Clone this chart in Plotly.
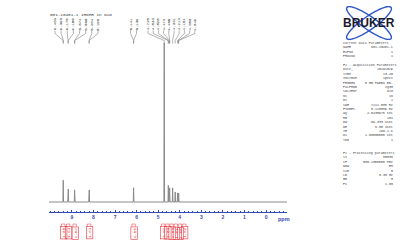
import numpy as np
import plotly.graph_objects as go

W, H = 400, 250

# ---------------- data ----------------
title_text = "601-10401-1 1HNMR in D2O"

peak_ppm = [9.40, 9.175, 9.165, 8.875, 8.865, 8.205, 8.195, 6.14, 4.72,
            4.53, 4.47, 4.33, 4.21, 4.10, 4.05]
peak_height = [0.137, 0.082, 0.082, 0.076, 0.076, 0.076, 0.076, 0.090, 1.0,
               0.105, 0.089, 0.089, 0.063, 0.057, 0.057]

top_labels = ["9.403", "9.398", "9.175", "9.166", "8.874", "8.866", "8.204", "8.196",
              "6.141", "6.139",
              "4.720", "4.533", "4.525", "4.472", "4.466", "4.331", "4.213", "4.104",
              "4.058", "4.049"]
label_groups = [8, 2, 10]

integral_ppm = [9.40, 9.17, 8.87, 8.20, 6.14, 4.53, 4.47, 4.33, 4.21, 4.10, 4.05]
integral_vals = ["1.00", "1.01", "1.02", "1.01", "1.00", "1.02", "1.04", "1.03",
                 "1.01", "1.05", "1.02"]
integral_groups = [1, 1, 1, 1, 1, 6]

tick_vals = [9, 8, 7, 6, 5, 4, 3, 2, 1, 0]

param_rows = [
    ("Current Data Parameters", None),
    ("NAME", "601-10401-1"),
    ("EXPNO", "1"),
    ("PROCNO", "1"),
    None,
    ("F2 - Acquisition Parameters", None),
    ("Date_", "20191029"),
    ("Time", "13.48"),
    ("INSTRUM", "spect"),
    ("PROBHD", "5 mm PABBO BB-"),
    ("PULPROG", "zg30"),
    ("SOLVENT", "D2O"),
    ("NS", "16"),
    ("DS", "2"),
    ("SWH", "7211.538 Hz"),
    ("FIDRES", "0.110039 Hz"),
    ("AQ", "4.5438976 sec"),
    ("RG", "101"),
    ("DW", "69.333 usec"),
    ("DE", "6.50 usec"),
    ("TE", "296.1 K"),
    ("D1", "1.00000000 sec"),
    ("TD0", "1"),
    None, None,
    ("F2 - Processing parameters", None),
    ("SI", "65536"),
    ("SF", "500.1300000 MHz"),
    ("WDW", "EM"),
    ("SSB", "0"),
    ("LB", "0.30 Hz"),
    ("GB", "0"),
    ("PC", "1.00"),
]

# ---------------- layout constants ----------------
AX_L, AX_R = 49, 287          # pixel extent of ppm axis
PPM_L, PPM_R = 10.06, -0.97
AXIS_Y = 212                  # pixel row of axis line
BASE_Y = 202                  # spectrum baseline
TOP_Y = 43                    # top of tallest peak
BLUE = "#3548b8"
RED = "#e8303a"
GRAY = "#8a8a8a"
PANEL_L, PANEL_R = 341, 395


def px(xp):
    return xp / W


def py(yp):
    return 1 - yp / H


def ppm2px(p):
    return AX_L + (PPM_L - p) / (PPM_L - PPM_R) * (AX_R - AX_L)


# spectrum as stick-like lines
order = np.argsort(peak_ppm)[::-1]
d = 0.015
sx, sy = [PPM_L], [0.0]
for i in order:
    p, h = peak_ppm[i], peak_height[i]
    sx += [p + d, p, p - d]
    sy += [0.0, h, 0.0]
sx.append(PPM_R)
sy.append(0.0)

fig = go.Figure()
fig.add_trace(go.Scatter(x=sx, y=sy, mode="lines",
                         line=dict(color=GRAY, width=1), hoverinfo="skip",
                         showlegend=False))

# y axis mapping so baseline lands at BASE_Y
dom_lo_px = BASE_Y + 3
span = dom_lo_px - TOP_Y
r0 = -3 / (span - 3)

shapes = []
annotations = []

# title
annotations.append(dict(x=px(48), y=py(14), xref="paper", yref="paper",
                        text=title_text, showarrow=False, xanchor="left",
                        yanchor="middle",
                        font=dict(family="Liberation Mono", size=4.3, color="#333")))

# peak labels with leaders
starts = [55, 130.5, 148]
spacing = [6.14, 6.0, 5.2]
k = 0
for g, n in enumerate(label_groups):
    for j in range(n):
        lx = starts[g] + j * spacing[g]
        txt = top_labels[k]
        tx = ppm2px(float(txt))
        annotations.append(dict(x=px(lx), y=py(24), xref="paper", yref="paper",
                                text=txt, showarrow=False, textangle=-90,
                                xanchor="center", yanchor="middle",
                                font=dict(family="Liberation Mono", size=4,
                                          color="#333")))
        path = (f"M {px(lx)} {py(30.5)} L {px(lx)} {py(33.5)} "
                f"L {px(tx)} {py(40.5)} L {px(tx)} {py(43.5)}")
        shapes.append(dict(type="path", path=path, xref="paper", yref="paper",
                           line=dict(color="#666", width=0.5)))
        k += 1

# integrals
k = 0
for n in integral_groups:
    pxs = [ppm2px(integral_ppm[k + j]) for j in range(n)]
    c = sum(pxs) / n
    for j in range(n):
        bx = c + (j - (n - 1) / 2) * 4.2
        annotations.append(dict(x=px(bx), y=py(233), xref="paper", yref="paper",
                                text=integral_vals[k + j], showarrow=False,
                                textangle=-90, xanchor="center", yanchor="middle",
                                bordercolor=RED, borderwidth=0.6, borderpad=0.5,
                                font=dict(family="Liberation Mono", size=4.4,
                                          color=RED)))
        path = (f"M {px(bx - 1.7)} {py(226.5)} L {px(bx - 1.7)} {py(224)} "
                f"L {px(bx + 1.7)} {py(224)} L {px(bx + 1.7)} {py(226.5)}")
        shapes.append(dict(type="path", path=path, xref="paper", yref="paper",
                           line=dict(color=RED, width=0.5)))
    k += n

# ppm unit label
annotations.append(dict(x=px(284), y=py(219), xref="paper", yref="paper",
                        text="<b>ppm</b>", showarrow=False, xanchor="center",
                        yanchor="middle",
                        font=dict(family="Liberation Sans", size=5.5, color=BLUE)))

# Bruker logo
cx, cy = 369, 23
t = np.linspace(0, 2 * np.pi, 80)
for ang in (35, -35):
    a, b = 27, 6.5
    th = np.deg2rad(ang)
    ex = cx + a * np.cos(t) * np.cos(th) - b * np.sin(t) * np.sin(th)
    ey = cy + a * np.cos(t) * np.sin(th) + b * np.sin(t) * np.cos(th)
    path = "M " + " L ".join(f"{px(u):.5f} {py(v):.5f}" for u, v in zip(ex, ey)) + " Z"
    shapes.append(dict(type="path", path=path, xref="paper", yref="paper",
                       line=dict(color="#2f55c8", width=1.4)))
annotations.append(dict(x=px(cx), y=py(cy), xref="paper", yref="paper",
                        text="<b>BRUKER</b>", showarrow=False, xanchor="center",
                        yanchor="middle",
                        font=dict(family="Liberation Sans", size=12,
                                  color="#1a1a2e")))

# parameter panel
y = 43
for row in param_rows:
    if row is not None:
        name, val = row
        annotations.append(dict(x=px(PANEL_L), y=py(y), xref="paper", yref="paper",
                                text=name, showarrow=False, xanchor="left",
                                yanchor="middle",
                                font=dict(family="Liberation Mono", size=3.3,
                                          color="#444")))
        if val is not None:
            annotations.append(dict(x=px(PANEL_R), y=py(y), xref="paper",
                                    yref="paper", text=val, showarrow=False,
                                    xanchor="right", yanchor="middle",
                                    font=dict(family="Liberation Mono", size=3.3,
                                              color="#444")))
    y += 4.4

fig.update_layout(
    width=W, height=H, margin=dict(l=0, r=0, t=0, b=0),
    paper_bgcolor="white", plot_bgcolor="rgba(0,0,0,0)",
    showlegend=False,
    xaxis=dict(domain=[px(AX_L), px(AX_R)], range=[PPM_L, PPM_R],
               anchor="free", position=py(AXIS_Y),
               showline=True, linecolor=BLUE, linewidth=1,
               ticks="inside", ticklen=2.5, tickcolor=BLUE, tickwidth=1,
               tickvals=tick_vals, ticktext=[f"<b>{v}</b>" for v in tick_vals],
               tickfont=dict(family="Liberation Sans", size=5, color=BLUE),
               minor=dict(dtick=0.2, ticks="inside", ticklen=1.2, tickcolor=BLUE,
                          tickwidth=0.6),
               showgrid=False, zeroline=False, fixedrange=True),
    yaxis=dict(domain=[py(dom_lo_px), py(TOP_Y)], range=[r0, 1.0],
               visible=False, fixedrange=True),
    shapes=shapes, annotations=annotations,
)

fig.write_html("out.html")
